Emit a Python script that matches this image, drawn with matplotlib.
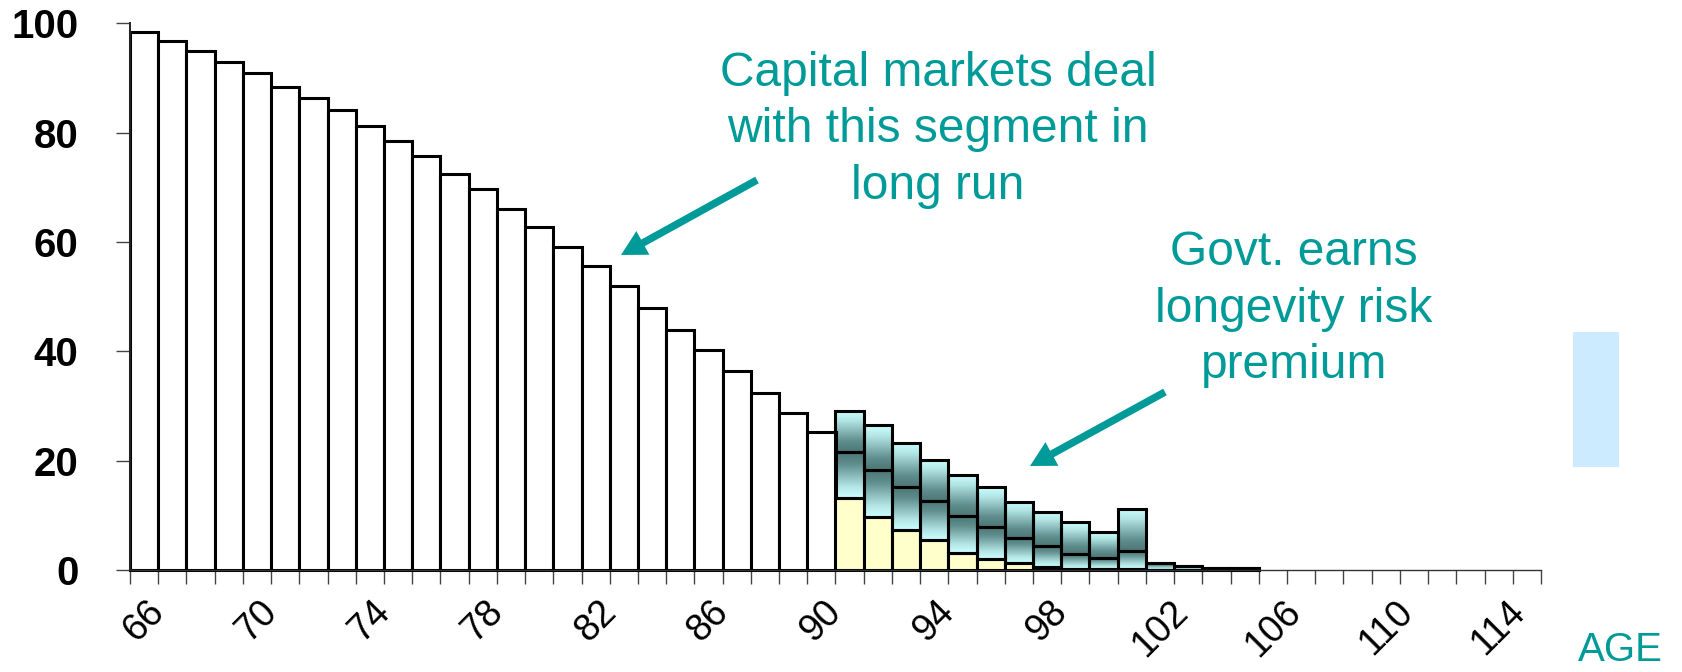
import numpy as np
import matplotlib
matplotlib.use('Agg')
import matplotlib.pyplot as plt
from matplotlib.colors import LinearSegmentedColormap
from matplotlib.patches import FancyArrow, Rectangle
from matplotlib.transforms import IdentityTransform

plt.rcParams['font.family'] = ['Liberation Sans', 'DejaVu Sans']

# ---- data ----
survivor_ages = list(range(66, 91))
survivors = [98.4, 96.8, 94.9, 92.9, 90.9, 88.4, 86.4, 84.1, 81.2, 78.4,
             75.7, 72.4, 69.6, 66.0, 62.8, 59.1, 55.6, 51.9, 48.0, 43.9,
             40.3, 36.4, 32.4, 28.8, 25.2]
tail_ages = list(range(91, 106))
tail_base = [13.1, 9.75, 7.3, 5.4, 3.2, 2.1, 1.3, 0.6, 0.2, 0.1, 0.1, 0, 0, 0, 0]
tail_mid = [8.4, 8.55, 7.8, 7.2, 6.7, 5.8, 4.6, 3.7, 2.8, 2.15, 3.3, 1.2, 0.8, 0.3, 0.3]
tail_top = [7.6, 8.2, 8.2, 7.6, 7.5, 7.2, 6.6, 6.4, 5.7, 4.75, 7.8, 0, 0, 0, 0]
age_min, age_max = 66, 115
tick_label_ages = list(range(66, 115, 4))
y_ticks = [0, 20, 40, 60, 80, 100]

TEAL = '#009B98'
W, H = 1682, 672
fig = plt.figure(figsize=(W / 100, H / 100), dpi=100)
ax = fig.add_axes([130 / W, 102 / H, 1411 / W, 546.7 / H])

edge_kw = dict(width=1.0, edgecolor='black', linewidth=2.2, clip_on=False)
ax.bar(survivor_ages, survivors, color='white', zorder=2, **edge_kw)
ax.bar(tail_ages, tail_base, color='#FFFFCC', zorder=2, **edge_kw)

cmap = LinearSegmentedColormap.from_list(
    'tealgrad', [(0.0, '#CCFFFF'), (0.25, '#B2E4E4'), (0.75, '#5F8C8C'),
                 (1.0, '#4E7777')])
grad = np.linspace(0, 1, 64).reshape(-1, 1)

base = np.array(tail_base, dtype=float)
mid = np.array(tail_mid, dtype=float)
top = np.array(tail_top, dtype=float)
for a, b, m, t in zip(tail_ages, base, mid, top):
    if m > 0:
        # middle segment: dark at top, light at bottom
        ax.imshow(grad, extent=(a - 0.5, a + 0.5, b, b + m), origin='lower',
                  cmap=cmap, aspect='auto', zorder=1, interpolation='bilinear')
    if t > 0:
        # top segment: light at top, dark at bottom
        ax.imshow(grad[::-1], extent=(a - 0.5, a + 0.5, b + m, b + m + t),
                  origin='lower', cmap=cmap, aspect='auto', zorder=1,
                  interpolation='bilinear')
ax.bar(tail_ages, mid, bottom=base, fill=False, zorder=2, **edge_kw)
ax.bar(tail_ages, top, bottom=base + mid, fill=False, zorder=2, **edge_kw)

ax.set_xlim(age_min - 0.5, age_max + 0.5)
ax.set_ylim(0, 100)

for s in ['top', 'right']:
    ax.spines[s].set_visible(False)
ax.spines['left'].set_linewidth(1.4)
ax.spines['left'].set_color('#222222')
ax.spines['bottom'].set_linewidth(1.0)
ax.spines['bottom'].set_color('#333333')

# x ticks: marks at category boundaries, labels every 4 years at centres
ax.set_xticks(np.arange(age_min - 0.5, age_max + 1.0, 1.0))
ax.tick_params(axis='x', which='major', direction='out', length=10, width=1.0,
               color='#444444', labelbottom=False)
ax.set_xticks(tick_label_ages, minor=True)
ax.set_xticklabels([str(a) for a in tick_label_ages], minor=True,
                   rotation=45, ha='center', fontsize=27)
ax.tick_params(axis='x', which='minor', length=0, pad=17)

ax.set_yticks(y_ticks)
ax.set_yticklabels([str(v) for v in y_ticks], fontsize=29, fontweight='bold')
ax.tick_params(axis='y', direction='out', length=10, width=1.0,
               color='#444444', pad=27)


def ftext(x, y, s, **kw):
    fig.text(x / W, (H - y) / H, s, ha='center', va='baseline',
             color=TEAL, **kw)


for i, line in enumerate(['Capital markets deal', 'with this segment in', 'long run']):
    ftext(938, 86 + i * 56.5, line, fontsize=34.5)
for i, line in enumerate(['Govt. earns', 'longevity risk', 'premium']):
    ftext(1294, 265 + i * 56.5, line, fontsize=34.5)
ftext(1620, 661, 'AGE', fontsize=29)

fig.add_artist(Rectangle((1573 / W, (H - 467) / H), 46 / W, 135 / H,
                         transform=fig.transFigure, color='#CCEBFF', lw=0))

for (x0, y0), (x1, y1) in [((757, 180), (621, 255)), ((1165, 392), (1030, 466))]:
    arr = FancyArrow(x0, H - y0, x1 - x0, (H - y1) - (H - y0), width=7.5,
                     head_width=27, head_length=25, length_includes_head=True,
                     color=TEAL, lw=0, transform=IdentityTransform())
    fig.add_artist(arr)

fig.savefig('out.png', dpi=100)
